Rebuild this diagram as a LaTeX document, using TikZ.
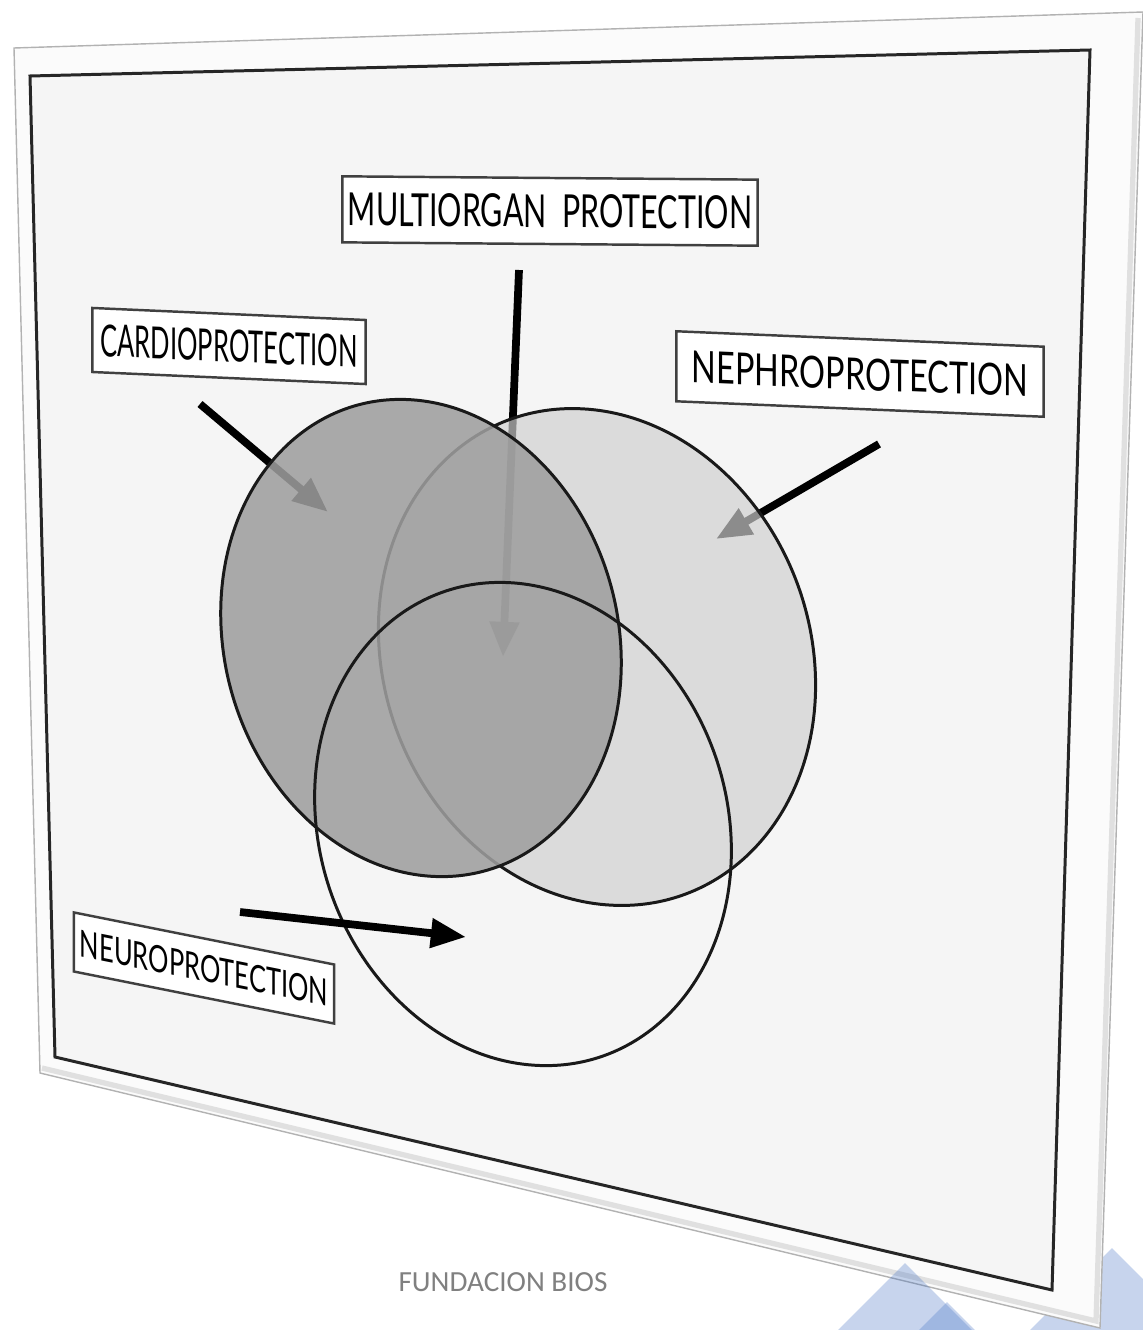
\documentclass[tikz,border=0pt]{standalone}
\usepackage{fontspec}
\usepackage{graphicx}
\usepackage{tikz}
\usetikzlibrary{arrows.meta}
\newfontfamily\labelfont{Lato}
\newfontfamily\footfont{Carlito}
\definecolor{panel}{HTML}{F5F5F5}
\definecolor{bevel}{HTML}{FBFBFB}
\definecolor{deco}{HTML}{4472C4}
\tikzset{
	lbl/.style={draw=black!75, line width=0.7pt, fill=white, inner sep=0pt},
	arr/.style={line width=2.2pt, black, -{Triangle[length=10pt,width=8pt]}},
	ring/.style={draw=black!90, line width=0.85pt},
	deco/.style={fill=deco, fill opacity=0.3}
}
\begin{document}
\begin{tikzpicture}[x=0.01cm,y=-0.01cm]
		\useasboundingbox (0,0) rectangle (1143,1330);
		
		\fill[deco] (1112,1248) -- (1194,1330) -- (1030,1330) -- cycle;
		
		\draw[fill=bevel, draw=black!30, line width=0.4pt] (14,48) -- (1143,12) -- (1100,1328) -- (40,1073) -- cycle;
		\draw[black!12, line width=1.5pt] (42,1068) -- (1096,1321) -- (1138,18);
		\draw[fill=panel, draw=black!85, line width=0.85pt] (30,76) -- (1090,50) -- (1052,1290) -- (55,1057) -- cycle;
		
		\coordinate (cardioS) at (200,404);
		\coordinate (cardioT) at (328,512);
		\coordinate (multiS) at (519,270);
		\coordinate (multiT) at (503,657);
		\coordinate (nephroS) at (879,444);
		\coordinate (nephroT) at (716,539);
		\coordinate (neuroS) at (240,912);
		\coordinate (neuroT) at (466,937);
		
		\draw[arr] (cardioS) -- (cardioT);
		\draw[arr] (multiS) -- (multiT);
		\draw[arr] (nephroS) -- (nephroT);
		
		\begin{scope}[shift={(597,657)}, x={(2.18cm,-0.12cm)}, y={(0.14cm,-2.48cm)}]
			\draw[ring, fill=black!19, fill opacity=0.68] (0,0) circle [radius=1];
		\end{scope}
		\begin{scope}[shift={(421,638)}, x={(2.00cm,-0.15cm)}, y={(0.08cm,-2.38cm)}]
			\draw[ring, fill=black!38, fill opacity=0.865] (0,0) circle [radius=1];
		\end{scope}
		\begin{scope}[shift={(523,824)}, x={(2.08cm,-0.15cm)}, y={(0.10cm,-2.41cm)}]
			\draw[ring] (0,0) circle [radius=1];
		\end{scope}
		
		\draw[arr] (neuroS) -- (neuroT);
		
		\node[lbl, minimum width=4.15cm, minimum height=0.66cm, yslant=-0.008] (multi) at (550,211) {\resizebox{4.04cm}{0.33cm}{\labelfont MULTIORGAN\ \ PROTECTION}};
		\node[lbl, minimum width=2.73cm, minimum height=0.64cm, yslant=-0.044] (cardio) at (229,346) {\resizebox{2.57cm}{0.32cm}{\labelfont CARDIOPROTECTION}};
		\node[lbl, minimum width=3.67cm, minimum height=0.70cm, yslant=-0.042] (nephro) at (860,374) {\resizebox{3.36cm}{0.32cm}{\labelfont NEPHROPROTECTION}};
		\node[lbl, minimum width=2.60cm, minimum height=0.59cm, yslant=-0.2] (neuro) at (204,968) {\resizebox{2.48cm}{0.27cm}{\labelfont NEUROPROTECTION}};
		
		\node[font=\footfont\fontsize{8.3}{10}\selectfont, text=black!50] (foot) at (503,1282) {FUNDACION BIOS};
		
		\fill[deco] (905,1263) -- (972,1330) -- (838,1330) -- cycle;
		\fill[deco] (947,1302) -- (975,1330) -- (919,1330) -- cycle;
		
	\end{tikzpicture}
\end{document}
